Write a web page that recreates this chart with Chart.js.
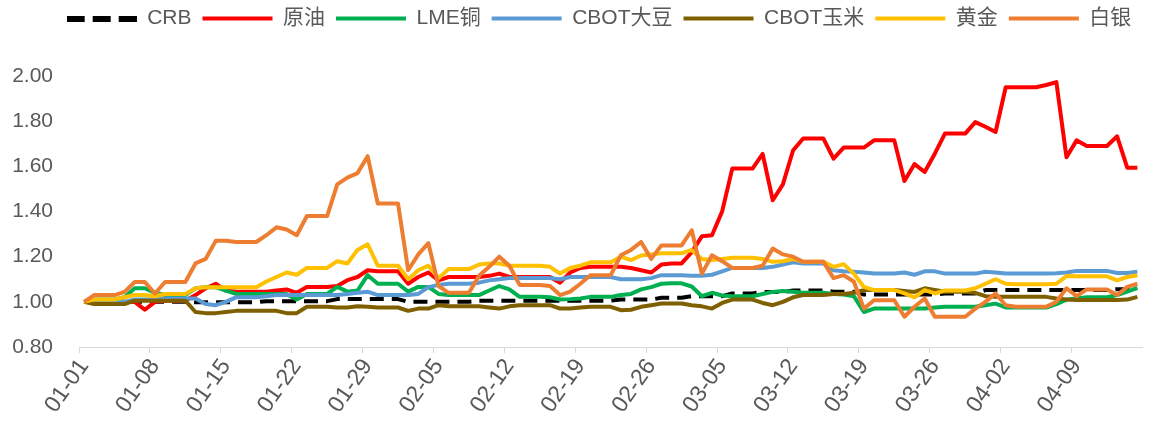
<!DOCTYPE html>
<html>
<head>
<meta charset="utf-8">
<script src="https://cdn.jsdelivr.net/npm/chart.js@4"></script>
<style>
  html, body { margin: 0; padding: 0; background: #fff; }
</style>
</head>
<body>
<canvas id="chart" width="1161" height="421"></canvas>
<script>
// daily dates 01-01 .. 04-15
const dates = [
  "01-01","01-02","01-03","01-04","01-05","01-06","01-07","01-08","01-09","01-10",
  "01-11","01-12","01-13","01-14","01-15","01-16","01-17","01-18","01-19","01-20",
  "01-21","01-22","01-23","01-24","01-25","01-26","01-27","01-28","01-29","01-30",
  "01-31","02-01","02-02","02-03","02-04","02-05","02-06","02-07","02-08","02-09",
  "02-10","02-11","02-12","02-13","02-14","02-15","02-16","02-17","02-18","02-19",
  "02-20","02-21","02-22","02-23","02-24","02-25","02-26","02-27","02-28","03-01",
  "03-02","03-03","03-04","03-05","03-06","03-07","03-08","03-09","03-10","03-11",
  "03-12","03-13","03-14","03-15","03-16","03-17","03-18","03-19","03-20","03-21",
  "03-22","03-23","03-24","03-25","03-26","03-27","03-28","03-29","03-30","03-31",
  "04-01","04-02","04-03","04-04","04-05","04-06","04-07","04-08","04-09","04-10",
  "04-11","04-12","04-13","04-14","04-15"
];

const tickDates = ["01-01","01-08","01-15","01-22","01-29","02-05","02-12","02-19",
  "02-26","03-05","03-12","03-19","03-26","04-02","04-09"];

// one row = one week starting on a Thursday
const crb = [
  1.00, 1.00, 1.00, 1.00, 1.00, 1.00, 1.00,
  1.00, 1.00, 1.00, 1.00, 0.998, 0.998, 0.998,
  0.998, 0.998, 0.998, 0.998, 1.003, 1.003, 1.003,
  1.003, 1.003, 1.003, 1.003, 1.012, 1.012, 1.012,
  1.012, 1.012, 1.012, 1.012, 1.00, 1.00, 1.00,
  1.00, 1.00, 1.00, 1.00, 1.005, 1.005, 1.005,
  1.005, 1.005, 1.005, 1.005, 1.005, 1.005, 1.005,
  1.005, 1.005, 1.005, 1.005, 1.01, 1.01, 1.01,
  1.01, 1.018, 1.018, 1.018, 1.025, 1.025, 1.025,
  1.025, 1.037, 1.037, 1.037, 1.044, 1.044, 1.044,
  1.05, 1.05, 1.05, 1.05, 1.045, 1.045, 1.045,
  1.032, 1.032, 1.032, 1.032, 1.032, 1.032, 1.032,
  1.032, 1.037, 1.037, 1.037, 1.037, 1.052, 1.052,
  1.052, 1.052, 1.052, 1.052, 1.052, 1.052, 1.052,
  1.052, 1.052, 1.052, 1.052, 1.056, 1.056, 1.056
];

const crude = [
  1.00, 1.00, 1.00, 1.00, 1.00, 1.00, 0.965,
  1.00, 1.005, 1.005, 1.005, 1.03, 1.06, 1.08,
  1.05, 1.045, 1.045, 1.045, 1.045, 1.05, 1.055,
  1.04, 1.066, 1.066, 1.066, 1.07, 1.096, 1.11,
  1.14, 1.135, 1.135, 1.135, 1.08, 1.11, 1.13,
  1.095, 1.11, 1.11, 1.11, 1.11, 1.115, 1.125,
  1.11, 1.11, 1.11, 1.11, 1.11, 1.085, 1.13,
  1.15, 1.155, 1.155, 1.155, 1.155, 1.15, 1.14,
  1.13, 1.165, 1.17, 1.17, 1.22, 1.29, 1.295,
  1.40, 1.59, 1.59, 1.59, 1.655, 1.45, 1.52,
  1.67, 1.723, 1.723, 1.723, 1.634, 1.683, 1.683,
  1.683, 1.715, 1.715, 1.715, 1.535, 1.61, 1.575,
  1.656, 1.745, 1.745, 1.745, 1.796, 1.775, 1.752,
  1.95, 1.95, 1.95, 1.95, 1.96, 1.973, 1.64,
  1.715, 1.69, 1.69, 1.69, 1.733, 1.594, 1.594
];

const copper = [
  1.00, 1.01, 1.01, 1.01, 1.02, 1.06, 1.06,
  1.04, 1.03, 1.03, 1.03, 1.06, 1.065, 1.065,
  1.05, 1.035, 1.035, 1.035, 1.035, 1.035, 1.035,
  1.01, 1.035, 1.035, 1.035, 1.066, 1.045, 1.05,
  1.118, 1.08, 1.08, 1.08, 1.045, 1.066, 1.066,
  1.035, 1.03, 1.03, 1.03, 1.03, 1.05, 1.07,
  1.055, 1.022, 1.022, 1.022, 1.02, 1.01, 1.012,
  1.015, 1.022, 1.022, 1.022, 1.03, 1.035, 1.055,
  1.065, 1.08, 1.082, 1.082, 1.068, 1.025, 1.04,
  1.028, 1.025, 1.025, 1.025, 1.035, 1.044, 1.048,
  1.045, 1.04, 1.04, 1.04, 1.035, 1.032, 1.025,
  0.955, 0.97, 0.97, 0.97, 0.97, 0.97, 0.97,
  0.975, 0.978, 0.978, 0.978, 0.978, 0.985, 0.992,
  0.975, 0.975, 0.975, 0.975, 0.975, 0.99, 1.01,
  1.015, 1.02, 1.02, 1.02, 1.03, 1.045, 1.062
];

const soybean = [
  1.00, 1.00, 1.00, 1.00, 1.00, 1.01, 1.01,
  1.01, 1.015, 1.015, 1.015, 1.015, 0.99, 0.985,
  1.00, 1.02, 1.02, 1.02, 1.025, 1.03, 1.03,
  1.03, 1.03, 1.03, 1.03, 1.03, 1.035, 1.04,
  1.045, 1.03, 1.03, 1.03, 1.03, 1.035, 1.065,
  1.075, 1.08, 1.08, 1.08, 1.085, 1.095, 1.10,
  1.105, 1.105, 1.105, 1.105, 1.105, 1.10, 1.11,
  1.11, 1.11, 1.11, 1.11, 1.10, 1.10, 1.10,
  1.105, 1.118, 1.118, 1.118, 1.115, 1.115, 1.12,
  1.135, 1.15, 1.15, 1.15, 1.15, 1.155, 1.165,
  1.175, 1.17, 1.17, 1.17, 1.14, 1.135, 1.133,
  1.13, 1.125, 1.125, 1.125, 1.13, 1.12, 1.135,
  1.135, 1.125, 1.125, 1.125, 1.125, 1.133, 1.13,
  1.125, 1.125, 1.125, 1.125, 1.125, 1.127, 1.13,
  1.137, 1.137, 1.137, 1.137, 1.128, 1.128, 1.133
];

const corn = [
  1.00, 0.99, 0.99, 0.99, 0.99, 1.005, 1.005,
  1.005, 1.005, 1.005, 1.005, 0.955, 0.95, 0.95,
  0.955, 0.96, 0.96, 0.96, 0.96, 0.96, 0.95,
  0.95, 0.978, 0.978, 0.978, 0.975, 0.975, 0.98,
  0.978, 0.975, 0.975, 0.975, 0.96, 0.97, 0.97,
  0.985, 0.98, 0.98, 0.98, 0.98, 0.975, 0.97,
  0.98, 0.985, 0.985, 0.985, 0.985, 0.97, 0.97,
  0.975, 0.978, 0.978, 0.978, 0.963, 0.965, 0.978,
  0.985, 0.993, 0.993, 0.993, 0.985, 0.98, 0.97,
  0.995, 1.01, 1.01, 1.01, 0.995, 0.985, 1.00,
  1.02, 1.03, 1.03, 1.03, 1.035, 1.035, 1.04,
  1.052, 1.052, 1.052, 1.052, 1.048, 1.044, 1.06,
  1.052, 1.045, 1.045, 1.045, 1.04, 1.025, 1.022,
  1.022, 1.022, 1.022, 1.022, 1.022, 1.015, 1.01,
  1.008, 1.008, 1.008, 1.008, 1.008, 1.01, 1.022
];

const gold = [
  1.00, 1.01, 1.01, 1.01, 1.02, 1.03, 1.03,
  1.025, 1.035, 1.035, 1.035, 1.06, 1.065, 1.065,
  1.065, 1.065, 1.065, 1.065, 1.09, 1.11, 1.13,
  1.12, 1.15, 1.15, 1.15, 1.18, 1.17, 1.23,
  1.255, 1.16, 1.16, 1.16, 1.10, 1.14, 1.16,
  1.105, 1.145, 1.145, 1.145, 1.165, 1.17, 1.17,
  1.16, 1.16, 1.16, 1.16, 1.155, 1.125, 1.15,
  1.16, 1.175, 1.175, 1.175, 1.20, 1.185, 1.205,
  1.21, 1.215, 1.215, 1.215, 1.23, 1.19, 1.185,
  1.19, 1.195, 1.195, 1.195, 1.19, 1.177, 1.18,
  1.19, 1.177, 1.177, 1.177, 1.155, 1.167, 1.125,
  1.066, 1.052, 1.052, 1.052, 1.037, 1.02, 1.052,
  1.037, 1.05, 1.05, 1.05, 1.06, 1.08, 1.10,
  1.08, 1.078, 1.078, 1.078, 1.078, 1.08, 1.114,
  1.113, 1.113, 1.113, 1.113, 1.095, 1.11, 1.118
];

const silver = [
  1.00, 1.03, 1.03, 1.03, 1.044, 1.088, 1.088,
  1.037, 1.088, 1.088, 1.088, 1.17, 1.19, 1.27,
  1.27, 1.265, 1.265, 1.265, 1.295, 1.33, 1.32,
  1.295, 1.38, 1.38, 1.38, 1.52, 1.55, 1.57,
  1.645, 1.435, 1.435, 1.435, 1.14, 1.21, 1.26,
  1.07, 1.04, 1.04, 1.04, 1.115, 1.155, 1.20,
  1.16, 1.075, 1.075, 1.075, 1.07, 1.03, 1.045,
  1.08, 1.118, 1.118, 1.118, 1.206, 1.23, 1.265,
  1.19, 1.25, 1.25, 1.25, 1.317, 1.125, 1.206,
  1.18, 1.15, 1.15, 1.15, 1.16, 1.236, 1.21,
  1.20, 1.177, 1.177, 1.177, 1.105, 1.118, 1.09,
  0.97, 1.007, 1.007, 1.007, 0.934, 0.978, 1.015,
  0.934, 0.934, 0.934, 0.934, 0.97, 1.00, 1.037,
  0.985, 0.978, 0.978, 0.978, 0.978, 1.00, 1.06,
  1.025, 1.055, 1.055, 1.055, 1.03, 1.066, 1.08
];

const names = ["CRB", "原油", "LME铜", "CBOT大豆", "CBOT玉米", "黄金", "白银"];
const colors = ["#000000", "#FF0000", "#00B050", "#5B9BD5", "#7F6000", "#FFC000", "#ED7D31"];
const series = [crb, crude, copper, soybean, corn, gold, silver];

Chart.defaults.font.family = '"Liberation Sans", "Noto Sans CJK SC", sans-serif';
Chart.defaults.color = "#595959";

// later series drawn on top, like the original
const datasets = series.map((values, i) => ({
  label: names[i],
  data: values,
  borderColor: colors[i],
  backgroundColor: colors[i],
  borderWidth: 4,
  borderDash: i === 0 ? [14, 8] : [],
  borderJoinStyle: "round",
  pointRadius: 0,
  tension: 0,
  order: series.length - i
}));

// legend swatch for the dashed CRB line (legend ignores borderDash with point styles)
const dashSample = document.createElement("canvas");
dashSample.width = 70;
dashSample.height = 6;
const dctx = dashSample.getContext("2d");
dctx.fillStyle = "#000000";
[0, 26, 52].forEach(x => dctx.fillRect(x, 0, 18, 6));

// taller legend box so the plot starts lower, then nudge it into place
const legendSpace = {
  id: "legendSpace",
  beforeInit(chart) {
    const fit = chart.legend.fit;
    chart.legend.fit = function () {
      fit.call(this);
      this.height = 76;
    };
  },
  afterLayout(chart) {
    const lg = chart.legend;
    lg.left += 21;
    lg.right += 21;
    lg.top -= 3;
    lg.bottom -= 3;
  }
};

new Chart(document.getElementById("chart"), {
  type: "line",
  data: { labels: dates, datasets },
  plugins: [legendSpace],
  options: {
    responsive: false,
    animation: false,
    events: [],
    layout: { padding: { left: 0, right: 5, top: 0, bottom: 0 } },
    plugins: {
      tooltip: { enabled: false },
      legend: {
        position: "top",
        labels: {
          usePointStyle: true,
          pointStyleWidth: 70,
          padding: 11,
          color: "#595959",
          font: { size: 21 },
          generateLabels(chart) {
            const items = Chart.defaults.plugins.legend.labels.generateLabels(chart);
            items.forEach(it => { it.pointStyle = it.datasetIndex === 0 ? dashSample : "line"; });
            return items;
          },
          sort: (a, b) => a.datasetIndex - b.datasetIndex
        }
      }
    },
    scales: {
      x: {
        offset: true,
        grid: {
          offset: true,
          drawOnChartArea: false,
          drawTicks: true,
          tickLength: 6,
          color: c => (c.index % 7 === 0 ? "#d9d9d9" : "rgba(0,0,0,0)")
        },
        border: { color: "#d9d9d9", width: 1 },
        ticks: {
          autoSkip: false,
          minRotation: 55,
          maxRotation: 55,
          padding: 1,
          color: "#595959",
          font: { size: 23 },
          callback: (v, i) => (tickDates.includes(dates[i]) ? dates[i] : "")
        },
        afterFit: s => { s.height = 74; }
      },
      y: {
        min: 0.8,
        max: 2.0,
        grid: { display: false, drawTicks: false },
        border: { display: false },
        ticks: {
          stepSize: 0.2,
          padding: 26,
          color: "#595959",
          font: { size: 21 },
          callback: v => v.toFixed(2)
        },
        afterFit: s => { s.width = 79; }
      }
    }
  }
});
</script>
</body>
</html>
